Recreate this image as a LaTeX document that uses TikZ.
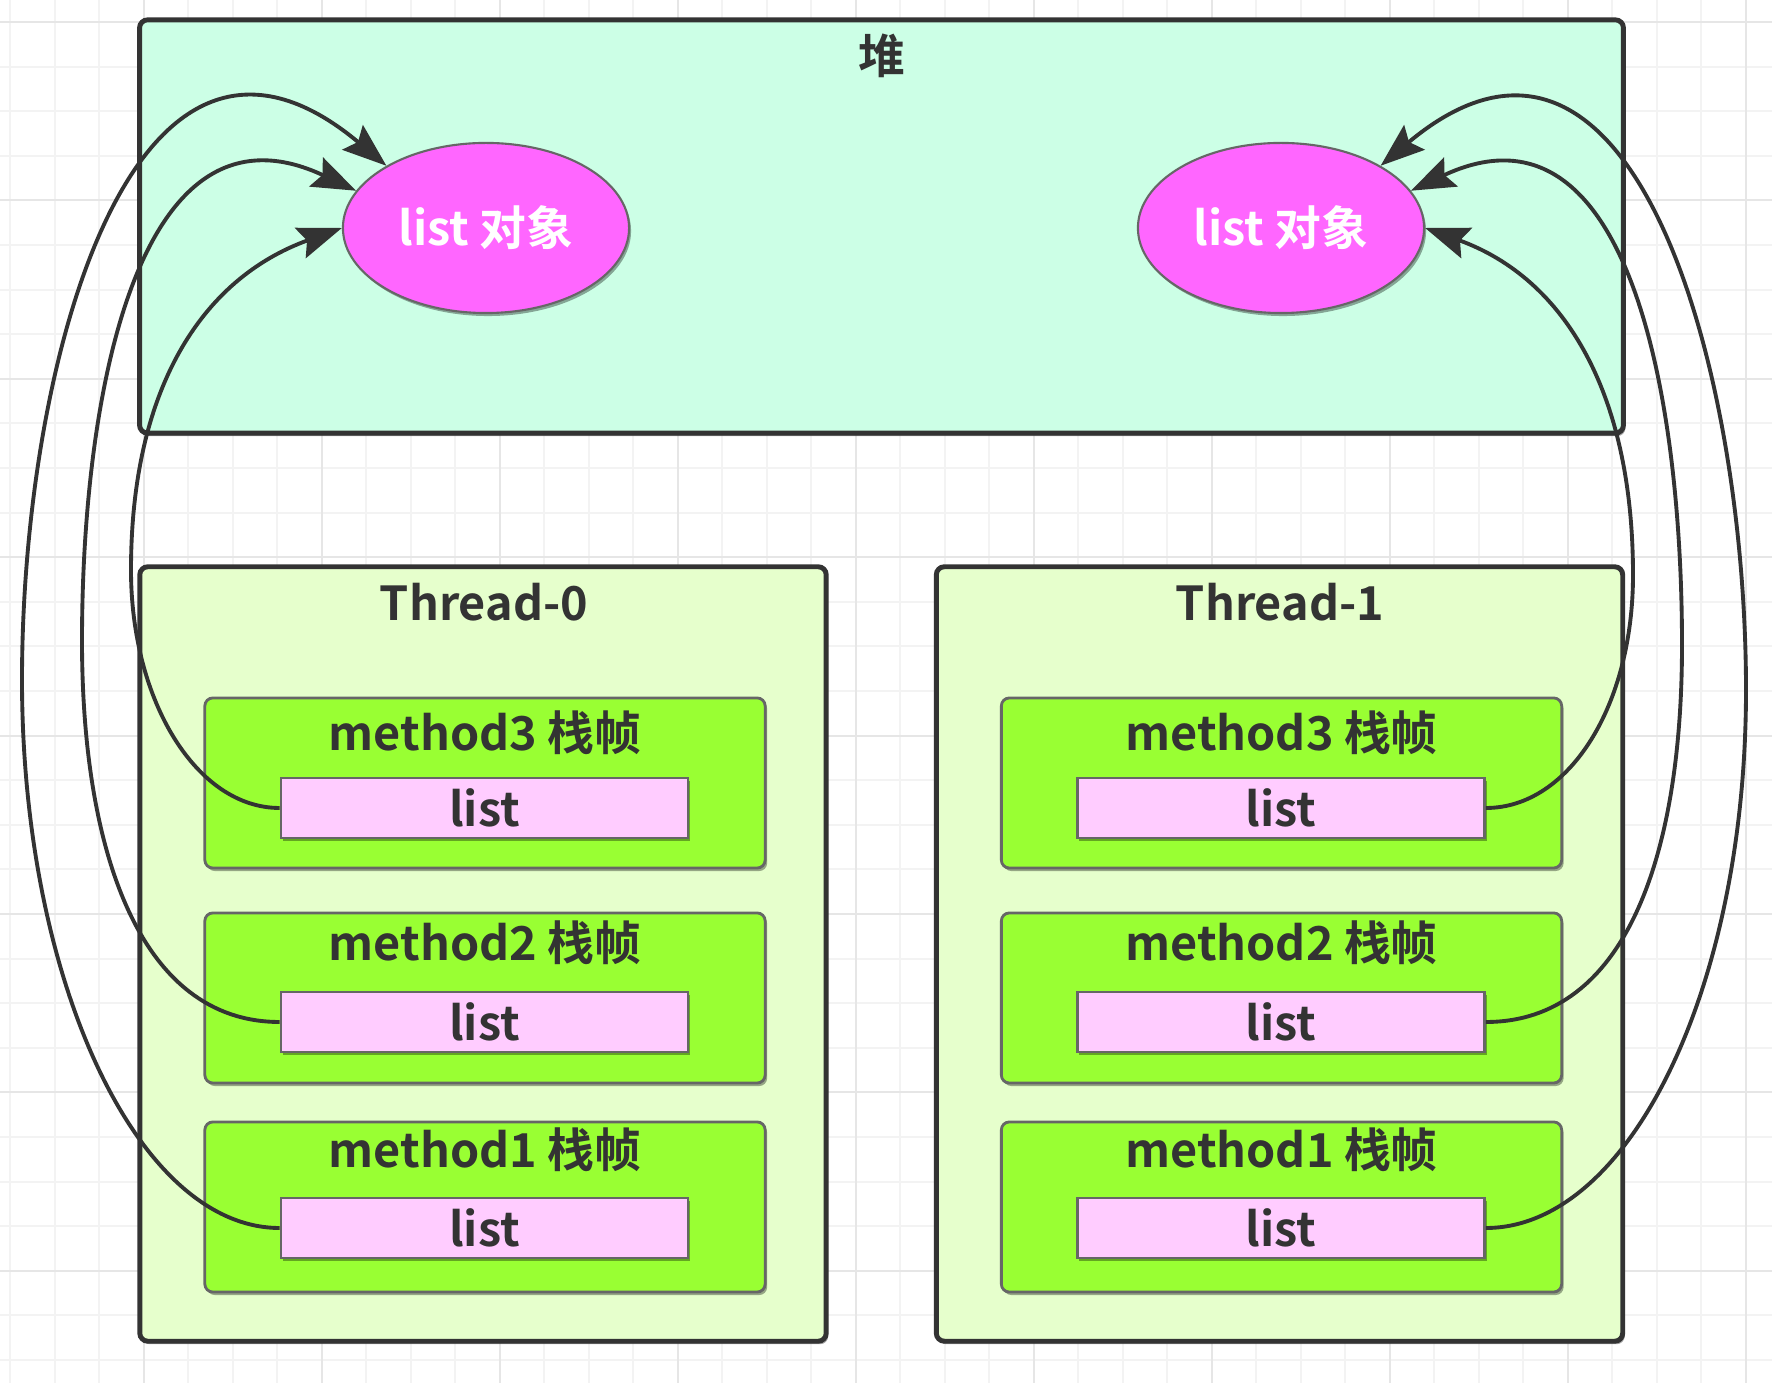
\documentclass[tikz,border=0pt]{standalone}
\usepackage{fontspec}
\newfontfamily\yahei{Noto Sans CJK SC Bold}
\usetikzlibrary{arrows.meta,shapes.geometric,shadows}
\definecolor{heapfill}{HTML}{CCFFE6}
\definecolor{threadfill}{HTML}{E6FFCC}
\definecolor{framefill}{HTML}{99FF33}
\definecolor{listfill}{HTML}{FFCCFF}
\definecolor{objfill}{HTML}{FF66FF}
\definecolor{darkline}{HTML}{333333}
\definecolor{midline}{HTML}{666666}
\definecolor{gridminor}{HTML}{F3F3F3}
\definecolor{gridmajor}{HTML}{E6E6E6}

\begin{document}
\begin{tikzpicture}[x=0.01cm,y=-0.01cm]
\tikzstyle{every node}=[font=\yahei\fontsize{13.3pt}{15pt}\selectfont, text=darkline];
\tikzstyle{boxshadow}=[drop shadow={shadow xshift=0.2mm, shadow yshift=-0.3mm, opacity=0.35, fill=black}];
\tikzstyle{heapbox}=[draw=darkline, line width=1.4pt, fill=heapfill, rounded corners=0.8mm, boxshadow, minimum width=14.83cm, minimum height=4.13cm];
\tikzstyle{threadbox}=[draw=darkline, line width=1.4pt, fill=threadfill, rounded corners=0.8mm, boxshadow, minimum width=6.86cm, minimum height=7.74cm];
\tikzstyle{framebox}=[draw=midline, line width=0.8pt, fill=framefill, rounded corners=0.8mm, boxshadow, minimum width=5.6cm, minimum height=1.7cm];
\tikzstyle{listbox}=[draw=midline, line width=0.7pt, fill=listfill, boxshadow, minimum width=4.07cm, minimum height=0.6cm, inner sep=0pt];
\tikzstyle{objnode}=[ellipse, draw=midline, line width=0.6pt, fill=objfill, boxshadow, minimum width=2.86cm, minimum height=1.7cm, inner sep=0pt, text=white];
\tikzstyle{boxtitle}=[inner sep=0pt];
\tikzstyle{refline}=[draw=darkline, line width=1.1pt, -{Stealth[length=4.4mm, width=3.2mm, inset=0.7mm]}];

\useasboundingbox (0,0) rectangle (1772,1383);
\foreach \k in {0,...,39}
	\draw[gridminor, line width=0.6pt] ({10.3+44.5*\k},0) -- ({10.3+44.5*\k},1383);
\foreach \k in {0,...,30}
	\draw[gridminor, line width=0.6pt] (0,{22+44.6*\k}) -- (1772,{22+44.6*\k});
\foreach \k in {3,7,...,39}
	\draw[gridmajor, line width=0.6pt] ({10.3+44.5*\k},0) -- ({10.3+44.5*\k},1383);
\foreach \k in {0,4,...,28}
	\draw[gridmajor, line width=0.6pt] (0,{22+44.6*\k}) -- (1772,{22+44.6*\k});

\node[heapbox] (heap) at (881.5,226.5) {};
\node[boxtitle] (heapt) at (882,56) {堆};
\node[objnode] (o0) at (486,228) {list 对象};
\node[objnode] (o1) at (1281,228) {list 对象};

\node[threadbox] (t0) at (483,954) {};
\node[threadbox] (t1) at (1279.5,954) {};
\node[boxtitle] (t0t) at (484,602) {Thread-0};
\node[boxtitle] (t1t) at (1280,602) {Thread-1};

\foreach \i/\fy/\ty/\ly in {3/783/733/808, 2/998/943/1022, 1/1207/1150/1228} {
	\node[framebox] (f0\i) at (485,\fy) {};
	\node[boxtitle] (f0\i t) at (485,\ty) {method\i\ 栈帧};
	\node[listbox] (l0\i) at (484.5,\ly) {list};
	\node[framebox] (f1\i) at (1281.5,\fy) {};
	\node[boxtitle] (f1\i t) at (1281.5,\ty) {method\i\ 栈帧};
	\node[listbox] (l1\i) at (1281,\ly) {list};
}

\draw[refline] (l03.west) .. controls +(-83,0) and +(0,131) .. (131,570) .. controls +(0,-180) and +(-141,51) .. (o0.west);
\draw[refline] (l02.west) .. controls +(-140,0) and +(0,210) .. (82,641) .. controls +(0,-250) and +(-217,-102) .. (o0.164);
\draw[refline] (l01.west) .. controls +(-142,0) and +(0,301) .. (22,680) .. controls +(0,-320) and +(-253,-212) .. (o0.148);
\draw[refline] (l13.east) .. controls +(83,0) and +(0,131) .. (1633,575) .. controls +(0,-180) and +(141,51) .. (o1.east);
\draw[refline] (l12.east) .. controls +(140,0) and +(0,210) .. (1682,645) .. controls +(0,-250) and +(217,-102) .. (o1.16);
\draw[refline] (l11.east) .. controls +(142,0) and +(0,301) .. (1746,690) .. controls +(0,-320) and +(253,-212) .. (o1.32);
\end{tikzpicture}
\end{document}
